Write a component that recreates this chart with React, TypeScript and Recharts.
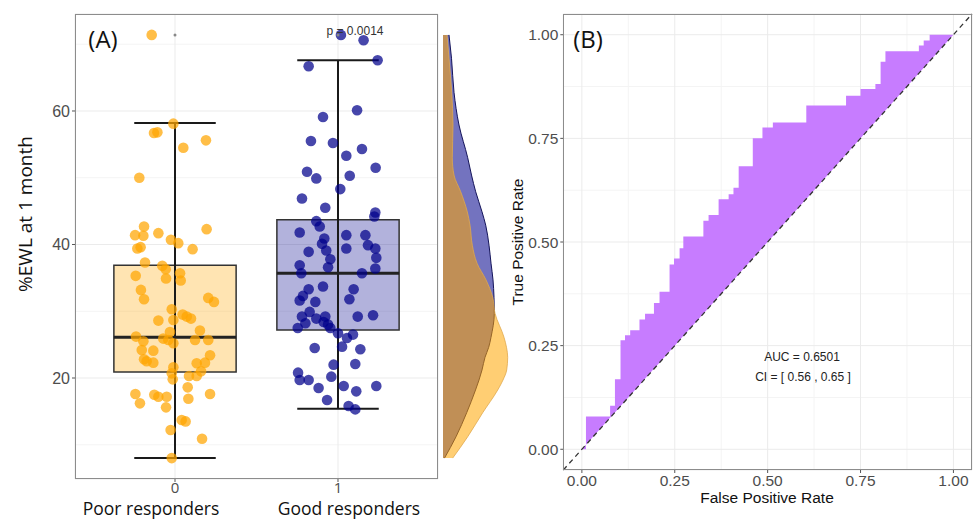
import {
  Area,
  CartesianGrid,
  ComposedChart,
  ReferenceArea,
  ReferenceLine,
  Scatter,
  XAxis,
  YAxis,
} from 'recharts'

// panel A: jittered observations (x = group + jitter, y = %EWL)
const poorJitter = [
  -0.143, -0.01, -0.129, -0.108, 0.051, 0.19, -0.219, -0.19, -0.245, -0.194, -0.102, 0.194,
  -0.231, -0.211, -0.025, 0.02, 0.108, -0.184, -0.078, -0.057, -0.055, 0.031, 0.035, -0.241,
  -0.209, -0.19, 0.204, 0.239, -0.02, -0.01, 0.047, 0.072, 0.098, -0.102, -0.239, -0.194,
  -0.031, -0.041, -0.072, -0.01, 0.123, 0.153, 0.204, -0.204, -0.133, -0.19, -0.174, -0.133,
  0.215, 0.133, 0.184, -0.01, -0.02, -0.014, 0.086, 0.133, 0.16, -0.243, -0.215, -0.127,
  -0.102, -0.051, -0.055, 0.078, 0.082, 0.215, 0.041, 0.065, -0.027, 0.166, -0.02,
]
const poorEwl = [
  71.4, 58.1, 56.7, 56.8, 54.5, 55.6, 50.0, 42.7, 41.4, 41.3, 41.7, 42.3,
  39.4, 39.6, 40.7, 40.2, 39.3, 37.3, 36.8, 36.3, 34.9, 35.7, 34.6, 35.3,
  33.2, 31.8, 32.0, 31.4, 30.3, 28.7, 29.5, 29.2, 28.9, 28.6, 26.2, 25.5,
  26.9, 25.7, 25.9, 25.2, 25.7, 27.1, 25.7, 24.2, 24.1, 22.8, 22.5, 22.3,
  23.4, 22.2, 22.3, 21.6, 20.7, 19.8, 20.3, 20.3, 21.0, 17.6, 16.2, 17.5,
  17.2, 17.2, 15.6, 18.6, 16.9, 17.6, 13.7, 13.5, 12.2, 10.9, 8.0,
]
const goodJitter = [
  0.018, 0.157, 0.243, -0.18, 0.117, -0.092, -0.166, -0.031, 0.147, 0.051, 0.231, -0.19,
  -0.133, 0.072, 0.014, -0.221, -0.078, 0.229, 0.223, -0.133, -0.112, -0.235, -0.084, -0.098,
  0.051, 0.051, 0.168, 0.184, 0.229, -0.18, -0.072, -0.047, 0.235, -0.235, -0.061, 0.229,
  -0.225, 0.147, -0.092, -0.18, 0.096, -0.215, -0.235, -0.139, 0.07, -0.174, -0.221, -0.133,
  -0.078, 0.121, 0.215, -0.2, -0.247, -0.088, -0.061, -0.047, 0.0, 0.055, 0.092, 0.025,
  -0.143, 0.137, -0.027, 0.106, -0.245, -0.235, -0.18, -0.041, -0.119, 0.035, 0.235, 0.112,
  -0.067, 0.065, 0.106,
]
const goodEwl = [
  71.4, 70.6, 67.6, 66.7, 60.1, 59.1, 55.5, 55.2, 54.3, 53.3, 51.5, 50.9,
  49.9, 50.3, 48.3, 46.9, 45.5, 44.8, 44.2, 43.5, 42.7, 41.8, 40.9, 40.1,
  41.4, 39.4, 41.4, 39.9, 39.4, 38.9, 39.1, 37.8, 38.0, 36.9, 36.6, 36.4,
  35.7, 35.7, 33.7, 33.3, 33.3, 32.3, 31.6, 31.4, 31.8, 29.9, 29.2, 28.9,
  29.2, 29.2, 29.4, 28.2, 27.5, 28.4, 28.0, 27.5, 26.7, 26.0, 26.5, 24.7,
  24.5, 24.3, 22.0, 22.1, 20.8, 19.7, 19.7, 20.2, 18.5, 18.8, 18.8, 18.0,
  16.7, 15.8, 15.3,
]

// [lower whisker, Q1, median, Q3, upper whisker]
const poorStats = [8.0, 20.9, 26.1, 36.9, 58.2]
const goodStats = [15.4, 27.2, 35.7, 43.7, 67.6]
const poorOutliers = [71.4]
const goodOutliers = [71.4]

const groupTicks = [0, 1]
const groupNames = ['Poor responders', 'Good responders']
const ewlTicks = [20, 40, 60]
const ewlMinor = [10, 30, 50, 70]

// marginal densities of %EWL (relative heights)
const densityEwl = [
  8.0, 11.2, 14.8, 18.2, 19.7, 21.2, 23.1, 24.6, 26.1, 29.7, 32.1, 34.7,
  37.2, 39.9, 42.9, 44.9, 47.9, 50.4, 53.0, 57.9, 62.8, 67.9, 71.4,
]
const densityGood = [
  1.5, 13, 23.7, 32.5, 36, 39, 42, 45.7, 48, 51.3, 51, 50,
  48, 46, 42.7, 39, 32.7, 28.5, 24.7, 16, 11, 8.5, 6,
]
const densityPoor = [
  9.7, 24.7, 39.7, 54.7, 60, 63.7, 64.7, 63.5, 61, 52, 49.7, 43,
  34, 29.3, 27, 24.3, 17.7, 11, 9.3, 10, 8.7, 6, 4,
]

// panel B: ROC steps
const rocFpr = [
  0.011, 0.076, 0.089, 0.104, 0.116, 0.13, 0.155, 0.17, 0.194, 0.209, 0.236, 0.248,
  0.263, 0.273, 0.327, 0.341, 0.368, 0.395, 0.408, 0.422, 0.46, 0.486, 0.514, 0.604,
  0.711, 0.75, 0.79, 0.804, 0.817, 0.907, 0.92, 0.936,
]
const rocTpr = [
  0.079, 0.105, 0.169, 0.263, 0.275, 0.287, 0.313, 0.327, 0.353, 0.38, 0.446, 0.46,
  0.485, 0.513, 0.551, 0.565, 0.603, 0.615, 0.631, 0.683, 0.75, 0.776, 0.788, 0.829,
  0.853, 0.869, 0.881, 0.935, 0.96, 0.974, 0.986, 1.0,
]
const rateTicks = [0, 0.25, 0.5, 0.75, 1]
const rateMinor = [0.125, 0.375, 0.625, 0.875]

const ORANGE = '#FFA500'
const NAVY = '#00008B'
const ARIAL = '"Liberation Sans", Arial, sans-serif'
const SANS = '"Open Sans", "Noto Sans", sans-serif'

const poorPoints = poorEwl.map((y, i) => ({ x: poorJitter[i], y }))
const goodPoints = goodEwl.map((y, i) => ({ x: 1 + goodJitter[i], y }))
const outlierPoints = [
  ...poorOutliers.map((y) => ({ x: 0, y })),
  ...goodOutliers.map((y) => ({ x: 1, y })),
]
const densityData = densityEwl.map((v, i) => ({
  v,
  good: densityGood[i],
  poor: densityPoor[i],
}))

const rocData: { fpr: number; tpr: number }[] = [{ fpr: 0, tpr: 0 }]
rocFpr.forEach((f, i) => {
  rocData.push({ fpr: f, tpr: i === 0 ? 0 : rocTpr[i - 1] })
  rocData.push({ fpr: f, tpr: rocTpr[i] })
})
rocData.push({ fpr: 1, tpr: 1 })

const dot = (color: string, opacity: number, r: number) => (props: any) => (
  <circle cx={props.cx} cy={props.cy} r={r} fill={color} fillOpacity={opacity} />
)

function GroupTick({ x, y, payload }: any) {
  const i = payload.value as number
  const shift = i === 0 ? -24 : 11
  return (
    <g>
      <text x={x} y={y + 9} textAnchor="middle" fontSize={15} fill="#4d4d4d" fontFamily={SANS}>
        {String(i)}
      </text>
      <text x={x + shift} y={y + 31} textAnchor="middle" fontSize={17.5} fill="#111" fontFamily={SANS}>
        {groupNames[i]}
      </text>
    </g>
  )
}

const abs = (left: number, top: number): React.CSSProperties => ({
  position: 'absolute',
  left,
  top,
})

export default function App() {
  const boxes = [
    { stats: poorStats, c: 0, fill: ORANGE },
    { stats: goodStats, c: 1, fill: NAVY },
  ]
  return (
    <div style={{ position: 'absolute', left: 0, top: 0, width: 975, height: 519, background: '#fff', overflow: 'hidden' }}>
      {/* panel A */}
      <div style={abs(0, 0)}>
        <ComposedChart width={440} height={519} margin={{ top: 14, right: 2, bottom: 0, left: 0 }}>
          <CartesianGrid stroke="#f4f4f4" vertical={false} horizontalValues={ewlMinor} />
          <CartesianGrid stroke="#ebebeb" />
          <XAxis
            type="number"
            dataKey="x"
            domain={[-0.6135, 1.6135]}
            ticks={groupTicks}
            height={40}
            tickSize={3}
            axisLine={false}
            tickLine={{ stroke: '#555' }}
            tick={<GroupTick />}
            allowDataOverflow
          />
          <YAxis
            type="number"
            dataKey="y"
            domain={[4.87, 74.53]}
            ticks={ewlTicks}
            width={75}
            tickSize={3}
            tickMargin={2}
            axisLine={false}
            tickLine={{ stroke: '#555' }}
            tick={{ fill: '#4d4d4d', fontSize: 16, fontFamily: ARIAL }}
            allowDataOverflow
          />
          {boxes.map((b) => (
            <ReferenceArea
              key={`box${b.c}`}
              x1={b.c - 0.375}
              x2={b.c + 0.375}
              y1={b.stats[1]}
              y2={b.stats[3]}
              fill={b.fill}
              fillOpacity={0.3}
              stroke="#333"
              strokeWidth={1.5}
              strokeOpacity={1}
            />
          ))}
          <Scatter data={poorPoints} isAnimationActive={false} shape={dot(ORANGE, 0.72, 5.3)} />
          <Scatter data={goodPoints} isAnimationActive={false} shape={dot(NAVY, 0.72, 5.3)} />
          {boxes.map((b) => (
            <ReferenceLine
              key={`wh${b.c}`}
              segment={[
                { x: b.c, y: b.stats[0] },
                { x: b.c, y: b.stats[4] },
              ]}
              stroke="#1a1a1a"
              strokeWidth={2}
            />
          ))}
          {boxes.map((b) =>
            [0, 4].map((k) => (
              <ReferenceLine
                key={`cap${b.c}${k}`}
                segment={[
                  { x: b.c - 0.25, y: b.stats[k] },
                  { x: b.c + 0.25, y: b.stats[k] },
                ]}
                stroke="#1a1a1a"
                strokeWidth={2}
              />
            ))
          )}
          {boxes.map((b) => (
            <ReferenceLine
              key={`med${b.c}`}
              segment={[
                { x: b.c - 0.375, y: b.stats[2] },
                { x: b.c + 0.375, y: b.stats[2] },
              ]}
              stroke="#222"
              strokeWidth={3}
            />
          ))}
          <Scatter data={outlierPoints} isAnimationActive={false} shape={dot('#888', 1, 1.5)} />
        </ComposedChart>
      </div>
      <div style={{ ...abs(75, 14), width: 363, height: 465, border: '1px solid #8c8c8c', boxSizing: 'border-box' }} />
      <div style={{ ...abs(103, 38), transform: 'translate(-50%,-50%)', fontFamily: SANS, fontSize: 24, color: '#111' }}>
        (A)
      </div>
      <div style={{ ...abs(355, 31), transform: 'translate(-50%,-50%)', fontFamily: ARIAL, fontSize: 12, color: '#333', whiteSpace: 'nowrap' }}>
        p = 0.0014
      </div>
      <div
        style={{
          ...abs(25, 214),
          transform: 'translate(-50%,-50%) rotate(-90deg)',
          fontFamily: SANS,
          fontSize: 19,
          color: '#111',
          whiteSpace: 'nowrap',
        }}
      >
        %EWL at 1 month
      </div>

      {/* marginal density */}
      <div style={abs(440, 0)}>
        <ComposedChart
          layout="vertical"
          width={75}
          height={519}
          data={densityData}
          margin={{ top: 14, right: 2, bottom: 40, left: 3 }}
        >
          <XAxis type="number" domain={[0, 70]} hide allowDataOverflow />
          <YAxis type="number" dataKey="v" domain={[4.87, 74.53]} reversed hide allowDataOverflow />
          <Area
            type="monotone"
            dataKey="good"
            fill={NAVY}
            fillOpacity={0.55}
            stroke="#14145a"
            strokeWidth={1}
            isAnimationActive={false}
          />
          <Area
            type="monotone"
            dataKey="poor"
            fill={ORANGE}
            fillOpacity={0.55}
            stroke="#e0a84c"
            strokeWidth={0.8}
            isAnimationActive={false}
          />
        </ComposedChart>
      </div>

      {/* panel B */}
      <div style={abs(500, 0)}>
        <ComposedChart width={475} height={519} data={rocData} margin={{ top: 14, right: 3, bottom: 0, left: 0 }}>
          <CartesianGrid stroke="#f4f4f4" horizontalValues={rateMinor} verticalValues={rateMinor} />
          <CartesianGrid stroke="#ebebeb" />
          <XAxis
            type="number"
            dataKey="fpr"
            domain={[-0.05, 1.05]}
            ticks={rateTicks}
            tickFormatter={(v: number) => v.toFixed(2)}
            height={49}
            tickSize={3}
            tickMargin={2}
            axisLine={false}
            tickLine={{ stroke: '#555' }}
            tick={{ fill: '#4d4d4d', fontSize: 15.5, fontFamily: ARIAL }}
            allowDataOverflow
          />
          <YAxis
            type="number"
            domain={[-0.05, 1.05]}
            ticks={rateTicks}
            tickFormatter={(v: number) => v.toFixed(2)}
            width={63.3}
            tickSize={3}
            tickMargin={2}
            axisLine={false}
            tickLine={{ stroke: '#555' }}
            tick={{ fill: '#4d4d4d', fontSize: 15.5, fontFamily: ARIAL }}
            allowDataOverflow
          />
          <Area
            type="linear"
            dataKey={(d: any) => [d.fpr, d.tpr]}
            fill="#C77CFF"
            fillOpacity={1}
            stroke="none"
            isAnimationActive={false}
          />
          <ReferenceLine
            segment={[
              { x: -0.05, y: -0.05 },
              { x: 1.05, y: 1.05 },
            ]}
            stroke="#333"
            strokeWidth={1.3}
            strokeDasharray="5 4"
          />
        </ComposedChart>
      </div>
      <div style={{ ...abs(563, 14), width: 409, height: 456, border: '1px solid #8c8c8c', boxSizing: 'border-box' }} />
      <div style={{ ...abs(588, 38), transform: 'translate(-50%,-50%)', fontFamily: SANS, fontSize: 24, color: '#111' }}>
        (B)
      </div>
      <div style={{ ...abs(802, 357), transform: 'translate(-50%,-50%)', fontFamily: ARIAL, fontSize: 12, color: '#222', whiteSpace: 'nowrap' }}>
        AUC = 0.6501
      </div>
      <div style={{ ...abs(803, 377), transform: 'translate(-50%,-50%)', fontFamily: ARIAL, fontSize: 12, color: '#222', whiteSpace: 'nowrap' }}>
        CI = [ 0.56 , 0.65 ]
      </div>
      <div style={{ ...abs(767, 498), transform: 'translate(-50%,-50%)', fontFamily: ARIAL, fontSize: 15.5, color: '#111', whiteSpace: 'nowrap' }}>
        False Positive Rate
      </div>
      <div
        style={{
          ...abs(518, 242),
          transform: 'translate(-50%,-50%) rotate(-90deg)',
          fontFamily: ARIAL,
          fontSize: 15.5,
          color: '#111',
          whiteSpace: 'nowrap',
        }}
      >
        True Positive Rate
      </div>
    </div>
  )
}
